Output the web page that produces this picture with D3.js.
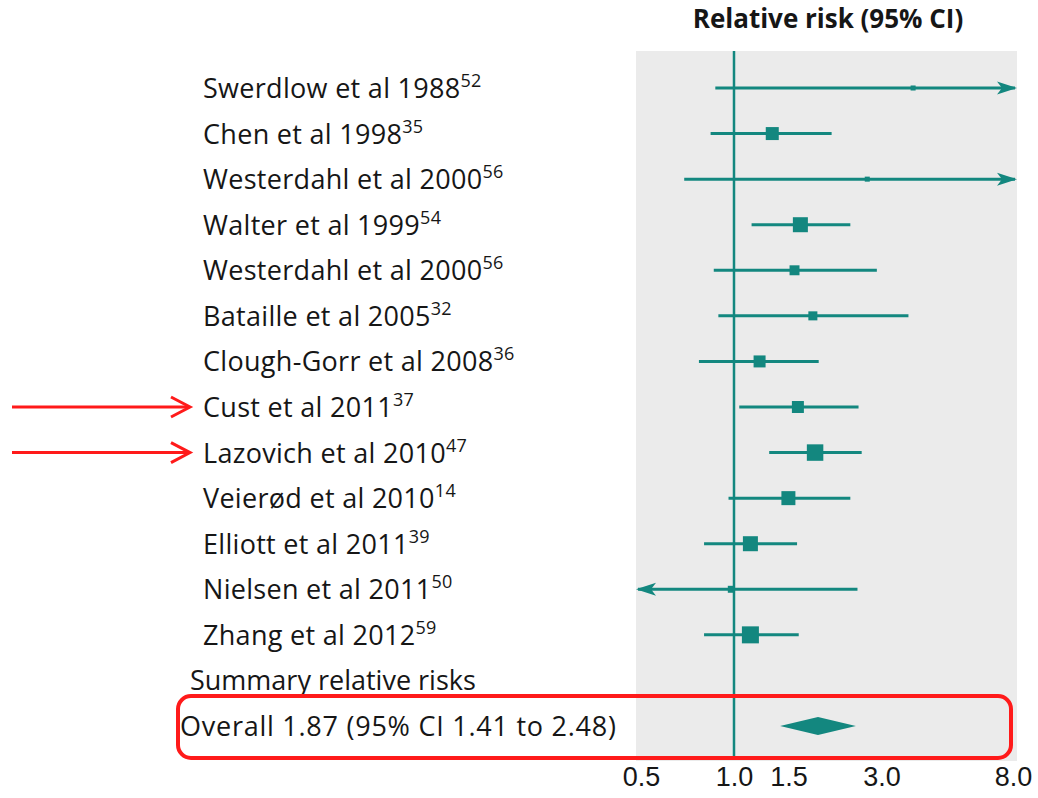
<!DOCTYPE html>
<html>
<head>
<meta charset="utf-8">
<script src="https://cdn.jsdelivr.net/npm/d3@7"></script>
<style>
  html, body { margin: 0; padding: 0; background: #fff; }
  svg { display: block; font-family: "Open Sans", "Noto Sans", sans-serif; }
</style>
</head>
<body>
<div id="chart"></div>
<script>
const width = 1038;
const height = 798;

// Study data
const studies = [
  "Swerdlow et al 1988", "Chen et al 1998", "Westerdahl et al 2000", "Walter et al 1999",
  "Westerdahl et al 2000", "Bataille et al 2005", "Clough-Gorr et al 2008", "Cust et al 2011",
  "Lazovich et al 2010", "Veierød et al 2010", "Elliott et al 2011", "Nielsen et al 2011",
  "Zhang et al 2012"
];
const refs = ["52", "35", "56", "54", "56", "32", "36", "37", "47", "14", "39", "50", "59"];
const rr = [3.8, 1.33, 2.7, 1.64, 1.57, 1.80, 1.21, 1.61, 1.83, 1.50, 1.13, 0.98, 1.13];
const lower = [0.87, 0.84, 0.69, 1.14, 0.86, 0.89, 0.77, 1.04, 1.30, 0.96, 0.80, 0.37, 0.80];
const upper = [18.0, 2.07, 14.0, 2.38, 2.90, 3.67, 1.88, 2.53, 2.59, 2.38, 1.60, 2.51, 1.62];
const weights = [1.3, 8.7, 1.3, 11.6, 5.1, 4.2, 7.4, 7.4, 14.0, 10.1, 11.6, 2.5, 14.9];

const summaryHeading = "Summary relative risks";
const overall = { label: "Overall 1.87 (95% CI 1.41 to 2.48)", rr: 1.87, lower: 1.41, upper: 2.48 };

const xTicks = [0.5, 1.0, 1.5, 3.0, 8.0];
const title = "Relative risk (95% CI)";

const teal = "#13877f";
const red = "#ff1a1a";
const ink = "#161616";

const svg = d3.select("#chart").append("svg")
  .attr("width", width)
  .attr("height", height);

// Scales
const x = d3.scaleLog().domain([0.5, 8]).range([641, 1013]);
const rowCount = studies.length + 2;
const y = d3.scalePoint().domain(d3.range(rowCount)).range([88, 726]);
const size = d3.scaleSqrt().domain([0, d3.max(weights)]).range([0, 17]);

const panelLeft = 636, panelRight = 1017, panelTop = 51, panelBottom = 761;

// Grey panel
svg.append("rect")
  .attr("x", panelLeft).attr("y", panelTop)
  .attr("width", panelRight - panelLeft).attr("height", panelBottom - panelTop)
  .attr("fill", "#ebebeb");

// Title
svg.append("text")
  .attr("x", 828).attr("y", 28)
  .attr("text-anchor", "middle")
  .attr("font-size", 26).attr("font-weight", "bold")
  .attr("fill", ink)
  .text(title);

// Null line
svg.append("line")
  .attr("x1", x(1)).attr("x2", x(1))
  .attr("y1", panelTop).attr("y2", panelBottom - 1)
  .attr("stroke", teal).attr("stroke-width", 2.5);

// X axis (labels only)
const xAxis = d3.axisBottom(x)
  .tickValues(xTicks)
  .tickFormat(d3.format(".1f"))
  .tickSize(0)
  .tickPadding(0);

const axisG = svg.append("g")
  .attr("transform", `translate(0,${panelBottom})`)
  .call(xAxis);
axisG.select(".domain").remove();
axisG.selectAll("text")
  .attr("font-family", "inherit")
  .attr("font-size", 27)
  .attr("fill", ink)
  .attr("dy", 0)
  .attr("y", 25);

// Arrowhead path, pointing right, tip at (0,0)
const arrowPath = "M0,0 L-20,-6.5 L-15,0 L-20,6.5 Z";

const minX = x.domain()[0], maxX = x.domain()[1];

const rows = svg.append("g")
  .selectAll("g.study")
  .data(studies.map((s, i) => ({
    name: s, ref: refs[i], rr: rr[i], lo: lower[i], hi: upper[i], w: weights[i], i
  })))
  .join("g")
  .attr("class", "study");

// Labels
const labels = rows.append("text")
  .attr("x", 203)
  .attr("y", (d) => y(d.i) + 10)
  .attr("font-size", 27)
  .attr("letter-spacing", 0.3)
  .attr("fill", ink);
labels.append("tspan").text((d) => d.name);
labels.append("tspan")
  .attr("font-size", 18)
  .attr("dy", -11)
  .text((d) => d.ref);

// CI lines
rows.append("line")
  .attr("x1", (d) => d.lo < minX ? panelLeft + 2 : x(d.lo))
  .attr("x2", (d) => d.hi > maxX ? panelRight - 2 : x(d.hi))
  .attr("y1", (d) => y(d.i)).attr("y2", (d) => y(d.i))
  .attr("stroke", teal).attr("stroke-width", 3);

// Arrows for truncated intervals
rows.filter((d) => d.hi > maxX).append("path")
  .attr("d", arrowPath)
  .attr("transform", (d) => `translate(${panelRight},${y(d.i)})`)
  .attr("fill", teal);
rows.filter((d) => d.lo < minX).append("path")
  .attr("d", arrowPath)
  .attr("transform", (d) => `translate(${panelLeft},${y(d.i)}) rotate(180)`)
  .attr("fill", teal);

// Point estimate squares
rows.append("rect")
  .attr("x", (d) => x(d.rr) - size(d.w) / 2)
  .attr("y", (d) => y(d.i) - size(d.w) / 2)
  .attr("width", (d) => size(d.w))
  .attr("height", (d) => size(d.w))
  .attr("fill", teal);

// Summary heading
svg.append("text")
  .attr("x", 190).attr("y", y(studies.length) + 10)
  .attr("font-size", 27).attr("letter-spacing", 0).attr("fill", ink)
  .text(summaryHeading);

// Overall row
const oy = y(studies.length + 1);
svg.append("text")
  .attr("x", 180).attr("y", oy + 10)
  .attr("font-size", 27).attr("letter-spacing", 0.75).attr("fill", ink)
  .text(overall.label);

svg.append("path")
  .attr("d", `M${x(overall.lower)},${oy} L${x(overall.rr)},${oy - 9} L${x(overall.upper)},${oy} L${x(overall.rr)},${oy + 9} Z`)
  .attr("fill", teal);

// Red annotations
svg.append("rect")
  .attr("x", 178).attr("y", 696)
  .attr("width", 1011 - 178).attr("height", 758 - 696)
  .attr("rx", 13).attr("ry", 13)
  .attr("fill", "none")
  .attr("stroke", red).attr("stroke-width", 4);

[7, 8].forEach((i) => {
  const ay = y(i);
  const g = svg.append("g").attr("stroke", red).attr("stroke-width", 3).attr("fill", "none");
  g.append("line").attr("x1", 12).attr("x2", 189).attr("y1", ay).attr("y2", ay);
  g.append("path").attr("d", `M171,${ay - 10} L190,${ay} L171,${ay + 10}`);
});
</script>
</body>
</html>
